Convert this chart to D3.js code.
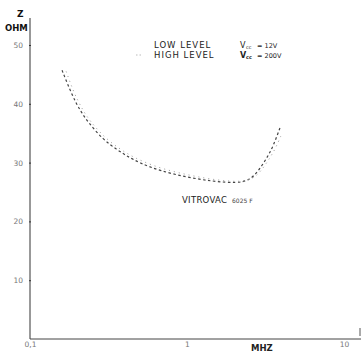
<!DOCTYPE html>
<html><head><meta charset="utf-8">
<script src="https://cdn.jsdelivr.net/npm/d3@7"></script>
<style>body{margin:0;background:#fff}svg{display:block}</style>
</head><body>
<svg id="c" width="361" height="354"></svg>
<script>
const freqLow = [0.16,0.185,0.208,0.234,0.292,0.358,0.415,0.502,0.673,1.0,1.47,2.08,2.52,2.87,3.23,3.53,3.91];
const zLow    = [45.7,41.5,38.9,36.9,33.9,32.2,31.1,29.9,28.6,27.5,26.8,26.5,27.0,28.7,30.8,32.7,35.9];
const freqHigh = [0.17,0.19,0.215,0.24,0.30,0.37,0.43,0.52,0.70,1.05,1.55,2.15,2.6,2.95,3.3,3.65,4.0];
const zHigh    = [45.5,41.9,39.1,37.1,34.2,32.4,31.3,30.2,28.9,27.8,27.0,26.7,27.1,28.5,30.4,32.3,34.8];
const yTicks = [10,20,30,40,50];
const yTickLabels = ["10","20","30","40","50"];
const xTicks = [0.1,1,10];
const xTickLabels = ["0,1","1","10"];

const svg = d3.select("#c");
const x = d3.scaleLog().domain([0.1,10]).range([30,344]);
const y = d3.scaleLinear().domain([0,50]).range([339,45]);

// axes
svg.append("line").attr("x1",30).attr("x2",30).attr("y1",18).attr("y2",339).attr("stroke","#333").attr("stroke-width",1);
svg.append("line").attr("x1",30).attr("x2",361).attr("y1",339).attr("y2",339).attr("stroke","#444").attr("stroke-width",1);
svg.append("line").attr("x1",360).attr("x2",360).attr("y1",328).attr("y2",336).attr("stroke","#555").attr("stroke-width",1);

const yAxis = d3.axisLeft(y).tickValues(yTicks).tickSize(2).tickFormat((d,i)=>yTickLabels[i]);
const gy = svg.append("g").attr("transform","translate(31,0)").call(yAxis);
gy.select(".domain").remove();
gy.selectAll("text").attr("font-family","DejaVu Sans").attr("font-size",7.5).attr("fill","#777").attr("dx",-3);
gy.selectAll("line").attr("stroke","#333");

const xAxis = d3.axisBottom(x).tickValues(xTicks).tickSize(0).tickFormat((d,i)=>xTickLabels[i]);
const gx = svg.append("g").attr("transform","translate(0,339)").call(xAxis);
gx.select(".domain").remove();
gx.selectAll("text").attr("font-family","DejaVu Sans").attr("font-size",7.5).attr("fill","#777").attr("dy",5);

// unit labels
svg.append("text").attr("x",17).attr("y",17).text("Z").attr("font-family","DejaVu Sans").attr("font-weight","bold").attr("font-size",9).attr("fill","#111");
svg.append("text").attr("x",5).attr("y",31).text("OHM").attr("font-family","DejaVu Sans").attr("font-weight","bold").attr("font-size",8.5).attr("fill","#111");
svg.append("text").attr("x",251).attr("y",351).text("MHZ").attr("font-family","DejaVu Sans").attr("font-weight","bold").attr("font-size",8.5).attr("fill","#222");

// curves
const line = d3.line().curve(d3.curveBasis);
svg.append("path").attr("d",line(freqLow.map((f,i)=>[x(f),y(zLow[i])])))
  .attr("fill","none").attr("stroke","#444").attr("stroke-width",1.2).attr("stroke-dasharray","2.5,2.5");
svg.append("path").attr("d",line(freqHigh.map((f,i)=>[x(f),y(zHigh[i])])))
  .attr("fill","none").attr("stroke","#999").attr("stroke-width",1).attr("stroke-dasharray","1,4");

// legend
const lg = svg.append("g").attr("font-family","DejaVu Sans").attr("fill","#222");
lg.append("text").attr("x",154).attr("y",48).text("LOW  LEVEL").attr("font-size",8.5).attr("letter-spacing",1);
lg.append("text").attr("x",154).attr("y",58).text("HIGH  LEVEL").attr("font-size",8.5).attr("letter-spacing",1);
lg.append("text").attr("x",240).attr("y",48).text("V").attr("font-size",8);
lg.append("text").attr("x",246).attr("y",49).text("cc").attr("font-size",5);
lg.append("text").attr("x",257).attr("y",48).text("= 12V").attr("font-size",6.5);
lg.append("text").attr("x",240).attr("y",58).text("V").attr("font-size",8).attr("font-weight","bold");
lg.append("text").attr("x",246).attr("y",59).text("cc").attr("font-size",5).attr("font-weight","bold");
lg.append("text").attr("x",257).attr("y",58).text("= 200V").attr("font-size",6.5);
svg.append("line").attr("x1",136).attr("x2",143).attr("y1",55).attr("y2",55).attr("stroke","#bbb").attr("stroke-dasharray","1.5,2");

svg.append("text").attr("x",182).attr("y",203).text("VITROVAC").attr("font-family","DejaVu Sans").attr("font-size",8.5).attr("fill","#222").attr("letter-spacing",0.3);
svg.append("text").attr("x",232).attr("y",203).text("6025 F").attr("font-family","DejaVu Sans").attr("font-size",6).attr("fill","#444");
</script>
</body></html>
